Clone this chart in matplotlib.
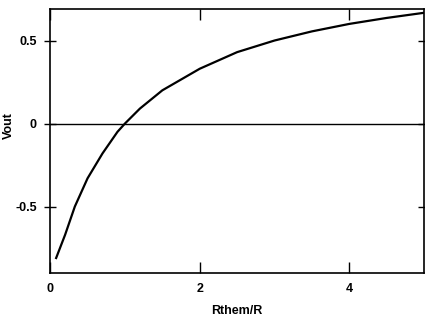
import matplotlib
matplotlib.use("Agg")
import matplotlib.pyplot as plt
import numpy as np

# values
ratio = [0.08, 0.2, 0.33, 0.5, 0.7, 0.9, 1.0, 1.2, 1.5, 2.0, 2.5, 3.0, 3.5, 4.0, 4.5, 5.0]
vout = [-0.81, -0.67, -0.5, -0.33, -0.18, -0.05, 0.0, 0.09, 0.20, 0.33, 0.43, 0.50, 0.555, 0.60, 0.636, 0.667]
xticks = [0, 2, 4]
yticks = [-0.5, 0, 0.5]
ytick_labels = ["-0.5", "0", "0.5"]

plt.rcParams["font.family"] = ["Liberation Sans", "DejaVu Sans"]
plt.rcParams["font.weight"] = "bold"

fig = plt.figure(figsize=(4.25, 3.2), dpi=100)
ax = fig.add_axes([0.118, 0.147, 0.88, 0.825])

ax.plot(ratio, vout, color="black", lw=1.6)
ax.axhline(0, color="black", lw=1.0)

ax.set_xlim(0, 5)
ax.set_ylim(-0.9, 0.69)
ax.set_xticks(xticks)
ax.set_yticks(yticks)
ax.set_yticklabels(ytick_labels)
ax.tick_params(axis="x", direction="in", length=8, width=1, top=True, labelsize=9, pad=7)
ax.tick_params(axis="y", direction="inout", length=9, width=1, right=True, labelsize=9, pad=5)
for lab in ax.get_xticklabels() + ax.get_yticklabels():
    lab.set_fontweight("bold")
for s in ax.spines.values():
    s.set_linewidth(1.2)

ax.set_xlabel("Rthem/R", fontsize=9, fontweight="bold")
ax.set_ylabel("Vout", fontsize=9, fontweight="bold")
ax.xaxis.set_label_coords(0.5, -0.12)
ax.yaxis.set_label_coords(-0.094, 0.557)

fig.savefig("out.png", dpi=100)
